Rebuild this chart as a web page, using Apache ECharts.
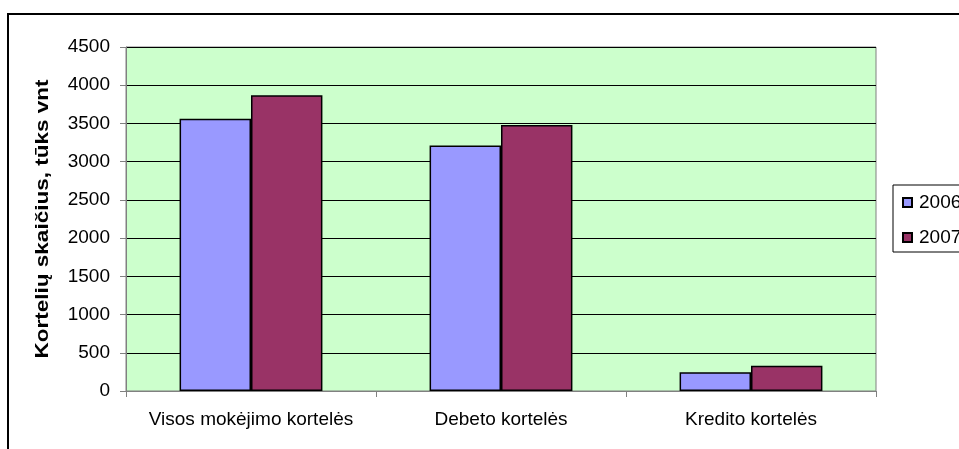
<!DOCTYPE html>
<html>
<head>
<meta charset="utf-8">
<script src="https://cdn.jsdelivr.net/npm/echarts@6/dist/echarts.min.js"></script>
<style>
html,body{margin:0;padding:0;background:#fff;}
#chart{width:959px;height:449px;}
</style>
</head>
<body>
<div id="chart"></div>
<script>
// Payment cards issued, thousand units
const categories = ['Visos mokėjimo kortelės', 'Debeto kortelės', 'Kredito kortelės'];
const seriesNames = ['2006', '2007'];
const values2006 = [3560, 3210, 245];
const values2007 = [3870, 3480, 330];
const yTicks = { min: 0, max: 4500, interval: 500 };
const yTitle = 'Kortelių skaičius, tūks vnt';

const FONT = '"Liberation Sans", Arial, sans-serif';
const LABEL_SIZE = 19;
const chart = echarts.init(document.getElementById('chart'), null, { renderer: 'canvas' });

chart.setOption({
  animation: false,
  backgroundColor: '#ffffff',
  textStyle: { fontFamily: FONT },
  grid: {
    left: 126, right: 83, top: 47, bottom: 58,
    show: true, backgroundColor: '#CCFFCC', borderColor: '#808080', borderWidth: 1
  },
  legend: {
    orient: 'vertical',
    left: 893, top: 185,
    padding: [8, 40, 5, 9],
    itemGap: 16,
    itemWidth: 9, itemHeight: 9,
    icon: 'rect',
    borderColor: '#000', borderWidth: 1,
    textStyle: { fontSize: LABEL_SIZE, color: '#000', fontFamily: FONT, padding: [0, 0, 0, 2] },
    data: seriesNames
  },
  xAxis: {
    type: 'category',
    data: categories,
    axisLine: { lineStyle: { color: '#808080', width: 1 } },
    axisTick: { show: true, alignWithLabel: false, length: 6, lineStyle: { color: '#808080' } },
    axisLabel: { color: '#000', fontSize: LABEL_SIZE, margin: 19, fontFamily: FONT, interval: 0 }
  },
  yAxis: {
    type: 'value',
    min: yTicks.min, max: yTicks.max, interval: yTicks.interval,
    axisLine: { show: true, lineStyle: { color: '#808080', width: 1 } },
    axisTick: { show: true, length: 6, lineStyle: { color: '#808080' } },
    axisLabel: { color: '#000', fontSize: LABEL_SIZE, margin: 16, fontFamily: FONT, formatter: (v) => String(v) },
    splitLine: { show: true, lineStyle: { color: '#000', width: 1 } }
  },
  graphic: [
    {
      type: 'rect', silent: true,
      shape: { x: 8, y: 14, width: 1000, height: 500 },
      style: { fill: 'none', stroke: '#000', lineWidth: 2 }
    },
    {
      type: 'text', silent: true,
      x: 43, y: 219, rotation: Math.PI / 2, scaleX: 1.25,
      style: {
        text: yTitle, fontSize: 18, fontWeight: 'bold', fontFamily: FONT,
        fill: '#000', align: 'center', verticalAlign: 'middle'
      }
    }
  ],
  series: [
    {
      name: seriesNames[0], type: 'bar', data: values2006,
      barGap: '0%', barCategoryGap: '42.86%',
      itemStyle: { color: '#9999FF', borderColor: '#000', borderWidth: 1.5 }
    },
    {
      name: seriesNames[1], type: 'bar', data: values2007,
      barGap: '0%', barCategoryGap: '42.86%',
      itemStyle: { color: '#993366', borderColor: '#000', borderWidth: 1.5 }
    }
  ]
});
</script>
</body>
</html>
